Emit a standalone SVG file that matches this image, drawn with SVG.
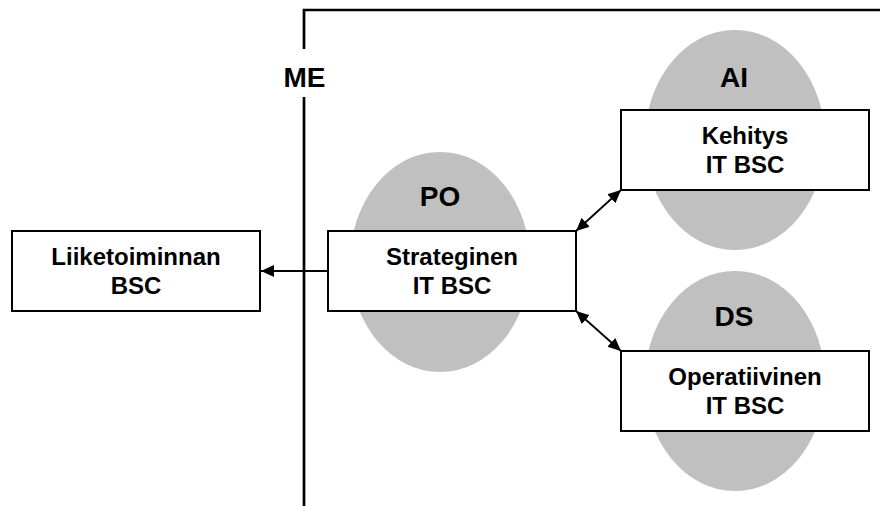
<svg xmlns="http://www.w3.org/2000/svg" width="880" height="506" viewBox="0 0 880 506">
  <style>
    .blob { fill: #c0c0c0; stroke: none; }
    .box { fill: #ffffff; stroke: #000000; stroke-width: 2; }
    .frame { fill: none; stroke: #000000; stroke-width: 2.7; }
    .link { fill: none; stroke: #000000; stroke-width: 1.8; }
    text { font-family: "Liberation Sans", Arial, Helvetica, sans-serif; font-weight: bold; fill: #000000; text-anchor: middle; }
    .tag { font-size: 28px; }
    .name { font-size: 24px; }
  </style>
  <defs>
    <marker id="head" markerUnits="userSpaceOnUse" markerWidth="14" markerHeight="12" refX="13" refY="6" orient="auto-start-reverse">
      <path d="M0,0 L13,6 L0,12 Z" fill="#000000"/>
    </marker>
  </defs>

  <!-- boundary of the IT area, broken for the ME label -->
  <g id="frame">
    <path class="frame" d="M304,506 V97 M304,49 V10 H880"/>
    <text class="tag" x="304.5" y="87">ME</text>
  </g>

  <!-- grey process ellipses behind the scorecards -->
  <g id="po">
    <ellipse class="blob" cx="440" cy="262" rx="90" ry="110"/>
    <text class="tag" x="440" y="206">PO</text>
  </g>
  <g id="ai">
    <ellipse class="blob" cx="735" cy="140" rx="90" ry="110"/>
    <text class="tag" x="734" y="87">AI</text>
  </g>
  <g id="ds">
    <ellipse class="blob" cx="735" cy="381" rx="90" ry="110"/>
    <text class="tag" x="734" y="326">DS</text>
  </g>

  <!-- scorecards -->
  <g id="liiketoiminnan">
    <rect class="box" x="12" y="231" width="248" height="80"/>
    <text class="name" x="136" y="265">Liiketoiminnan</text>
    <text class="name" x="136" y="294">BSC</text>
  </g>
  <g id="strateginen">
    <rect class="box" x="328" y="231" width="248" height="80"/>
    <text class="name" x="452" y="265">Strateginen</text>
    <text class="name" x="452" y="294">IT BSC</text>
  </g>
  <g id="kehitys">
    <rect class="box" x="621" y="110" width="248" height="80"/>
    <text class="name" x="745" y="144">Kehitys</text>
    <text class="name" x="745" y="173">IT BSC</text>
  </g>
  <g id="operatiivinen">
    <rect class="box" x="621" y="351" width="248" height="80"/>
    <text class="name" x="745" y="385">Operatiivinen</text>
    <text class="name" x="745" y="414">IT BSC</text>
  </g>

  <!-- connectors -->
  <g id="connectors">
    <line class="link" x1="328" y1="271" x2="261" y2="271" marker-end="url(#head)"/>
    <line class="link" x1="576" y1="231" x2="621" y2="190" marker-start="url(#head)" marker-end="url(#head)"/>
    <line class="link" x1="576" y1="311" x2="621" y2="351" marker-start="url(#head)" marker-end="url(#head)"/>
  </g>
</svg>
